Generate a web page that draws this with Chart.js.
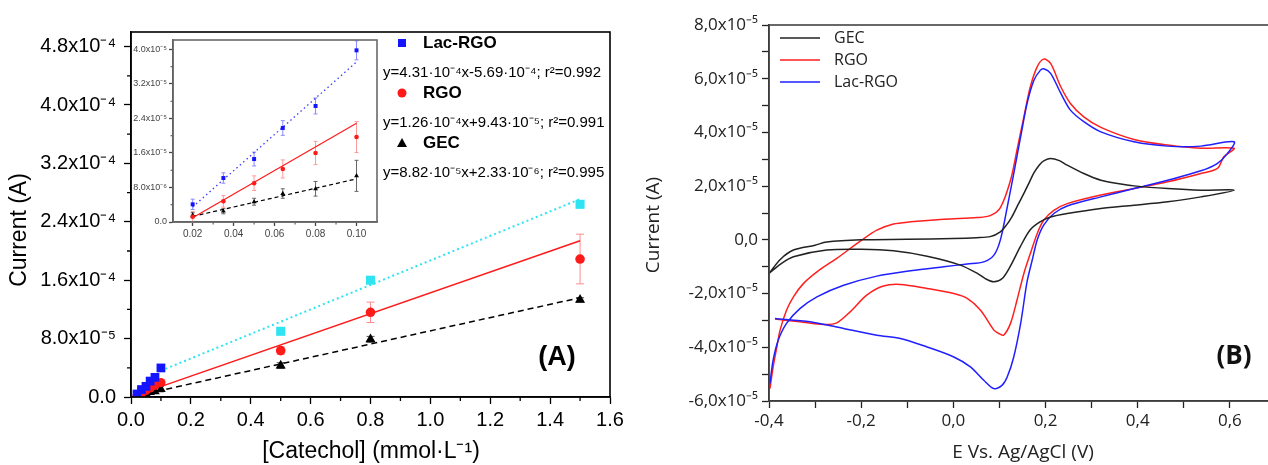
<!DOCTYPE html>
<html>
<head>
<meta charset="utf-8">
<script src="https://cdn.jsdelivr.net/npm/chart.js@4.4.1/dist/chart.umd.min.js"></script>
<style>
  html, body { margin: 0; padding: 0; background: #fff; overflow: hidden; width: 1268px; height: 465px; }
  canvas { position: absolute; }
  #panelA { left: 0; top: 0; }
  #inset { left: 130px; top: 30px; }
  #panelB { left: 640px; top: 0; }
</style>
</head>
<body>
<canvas id="panelA" width="640" height="465"></canvas>
<canvas id="inset" width="255" height="215"></canvas>
<canvas id="panelB" width="640" height="465"></canvas>
<script>
// ---------- panel (A): calibration data ----------
var concLow = [0.02, 0.035, 0.05, 0.064, 0.08, 0.10];
var concHigh = [0.5, 0.8, 1.5];

var lacLow = [4.1e-6, 1.02e-5, 1.46e-5, 2.18e-5, 2.69e-5, 3.98e-5];
var lacLowErr = [1.2e-6, 1.2e-6, 1.6e-6, 1.7e-6, 1.85e-6, 2.2e-6];
var lacHigh = [9.0e-5, 1.6e-4, 2.64e-4];
var lacHighErr = [1e-6, 2e-6, 5e-6];

var rgoLow = [1.2e-6, 4.8e-6, 9.0e-6, 1.23e-5, 1.6e-5, 1.97e-5];
var rgoLowErr = [1.2e-6, 1.35e-6, 1.7e-6, 2.1e-6, 2.7e-6, 3.6e-6];
var rgoHigh = [6.35e-5, 1.16e-4, 1.89e-4];
var rgoHighErr = [5e-6, 1.4e-5, 3.4e-5];

var gecLow = [1.6e-6, 2.5e-6, 4.7e-6, 6.6e-6, 7.7e-6, 1.07e-5];
var gecLowErr = [0.55e-6, 0.6e-6, 0.8e-6, 1.1e-6, 1.7e-6, 3.6e-6];
var gecHigh = [4.3e-5, 7.9e-5, 1.33e-4];
var gecHighErr = [4e-6, 4e-6, 3e-6];

// fitted lines (end points)
var lacFitX = [0.1, 1.5], lacFitY = [3.6e-5, 2.71e-4];
var rgoFitX = [0.02, 1.5], rgoFitY = [2.9e-6, 2.14e-4];
var gecFitX = [0.02, 1.5], gecFitY = [1.8e-6, 1.36e-4];
var insetFitX = [0.02, 0.10];
var lacInsetFitY = [3.5e-6, 3.71e-5];
var rgoInsetFitY = [1.0e-6, 2.29e-5];
var gecInsetFitY = [1.3e-6, 1.0e-5];

var seriesNames = ['Lac-RGO', 'RGO', 'GEC'];
var fitEquations = [
  'y=4.31·10⁻⁴x-5.69·10⁻⁴; r²=0.992',
  'y=1.26·10⁻⁴x+9.43·10⁻⁵; r²=0.991',
  'y=8.82·10⁻⁵x+2.33·10⁻⁶; r²=0.995'
];

var mainXTicks = [0, 0.2, 0.4, 0.6, 0.8, 1.0, 1.2, 1.4, 1.6];
var mainXLabels = ['0.0', '0.2', '0.4', '0.6', '0.8', '1.0', '1.2', '1.4', '1.6'];
var mainXMinor = [0.1, 0.3, 0.5, 0.7, 0.9, 1.1, 1.3, 1.5];
var mainYTicks = [0, 8e-5, 1.6e-4, 2.4e-4, 3.2e-4, 4.0e-4, 4.8e-4];
var mainYLabels = ['0.0', '8.0x10⁻⁵', '1.6x10⁻⁴', '2.4x10⁻⁴', '3.2x10⁻⁴', '4.0x10⁻⁴', '4.8x10⁻⁴'];
var mainYMinor = [4e-5, 1.2e-4, 2.0e-4, 2.8e-4, 3.6e-4, 4.4e-4];

var insetXTicks = [0.02, 0.04, 0.06, 0.08, 0.10];
var insetXLabels = ['0.02', '0.04', '0.06', '0.08', '0.10'];
var insetXMinor = [0.03, 0.05, 0.07, 0.09];
var insetYTicks = [0, 8e-6, 1.6e-5, 2.4e-5, 3.2e-5, 4.0e-5];
var insetYLabels = ['0.0', '8.0x10⁻⁶', '1.6x10⁻⁵', '2.4x10⁻⁵', '3.2x10⁻⁵', '4.0x10⁻⁵'];
var insetYMinor = [4e-6, 1.2e-5, 2.0e-5, 2.8e-5, 3.6e-5];

// ---------- panel (B): cyclic voltammograms ----------
var gecE = [-0.4, -0.375, -0.347, -0.3, -0.275, -0.2, -0.1, 0.0, 0.05, 0.08, 0.102, 0.115, 0.127, 0.14, 0.153, 0.165, 0.175, 0.187, 0.197, 0.211, 0.23, 0.247, 0.283, 0.32, 0.356, 0.392, 0.465, 0.537, 0.609,
            0.537, 0.465, 0.392, 0.32, 0.247, 0.211, 0.188, 0.166, 0.145, 0.123, 0.106, 0.088, 0.07, 0.052, 0.015, -0.057, -0.13, -0.2, -0.275, -0.347, -0.375, -0.4];
var gecI = [-1.25e-5, -0.72e-5, -0.38e-5, -0.2e-5, -0.08e-5, 0.0, 0.02e-5, 0.05e-5, 0.08e-5, 0.12e-5, 0.3e-5, 0.55e-5, 0.86e-5, 1.3e-5, 1.73e-5, 2.15e-5, 2.5e-5, 2.8e-5, 2.95e-5, 3.03e-5, 2.95e-5, 2.78e-5, 2.47e-5, 2.22e-5, 2.10e-5, 2.01e-5, 1.91e-5, 1.85e-5, 1.85e-5,
            1.60e-5, 1.42e-5, 1.29e-5, 1.17e-5, 0.98e-5, 0.85e-5, 0.67e-5, 0.36e-5, -0.26e-5, -1.0e-5, -1.44e-5, -1.56e-5, -1.45e-5, -1.25e-5, -0.94e-5, -0.61e-5, -0.41e-5, -0.35e-5, -0.38e-5, -0.63e-5, -0.9e-5, -1.25e-5];

var rgoE = [-0.398, -0.391, -0.383, -0.376, -0.362, -0.347, -0.325, -0.296, -0.253, -0.202, -0.166, -0.13, -0.093, -0.021, 0.052, 0.08, 0.102, 0.124, 0.138, 0.153, 0.167, 0.182, 0.196, 0.211, 0.233, 0.254, 0.283, 0.32, 0.392, 0.465, 0.537, 0.609,
            0.587, 0.573, 0.537, 0.465, 0.392, 0.32, 0.247, 0.218, 0.196, 0.182, 0.167, 0.153, 0.138, 0.124, 0.109, 0.1, 0.088, 0.059, 0.03, 0.001, -0.057, -0.115, -0.152, -0.188, -0.224, -0.253, -0.282, -0.333, -0.387];
var rgoI = [-5.54e-5, -4.73e-5, -3.99e-5, -3.36e-5, -2.62e-5, -2.12e-5, -1.62e-5, -1.19e-5, -0.69e-5, -0.05e-5, 0.36e-5, 0.59e-5, 0.67e-5, 0.77e-5, 0.83e-5, 0.9e-5, 1.2e-5, 2.22e-5, 3.34e-5, 4.58e-5, 5.7e-5, 6.45e-5, 6.73e-5, 6.57e-5, 5.70e-5, 5.08e-5, 4.58e-5, 4.19e-5, 3.74e-5, 3.53e-5, 3.41e-5, 3.41e-5,
            3.10e-5, 2.66e-5, 2.47e-5, 2.16e-5, 1.91e-5, 1.67e-5, 1.35e-5, 1.1e-5, 0.73e-5, 0.24e-5, -0.51e-5, -1.25e-5, -2.25e-5, -3.11e-5, -3.55e-5, -3.5e-5, -3.36e-5, -2.62e-5, -2.18e-5, -2.0e-5, -1.81e-5, -1.66e-5, -1.72e-5, -2.06e-5, -2.68e-5, -3.09e-5, -3.15e-5, -3.05e-5, -2.95e-5];

var lacE = [-0.398, -0.391, -0.38, -0.362, -0.333, -0.296, -0.238, -0.166, -0.093, -0.021, 0.03, 0.066, 0.088, 0.102, 0.117, 0.131, 0.146, 0.16, 0.175, 0.189, 0.196, 0.211, 0.233, 0.254, 0.283, 0.32, 0.392, 0.465, 0.537, 0.609,
            0.595, 0.573, 0.537, 0.465, 0.392, 0.32, 0.247, 0.218, 0.196, 0.182, 0.171, 0.16, 0.146, 0.131, 0.117, 0.106, 0.088, 0.066, 0.037, 0.001, -0.057, -0.115, -0.166, -0.238, -0.311, -0.387];
var lacI = [-5.35e-5, -4.48e-5, -3.74e-5, -3.11e-5, -2.56e-5, -2.12e-5, -1.69e-5, -1.35e-5, -1.15e-5, -1.0e-5, -0.9e-5, -0.82e-5, -0.57e-5, 0.0, 1.23e-5, 2.47e-5, 3.84e-5, 5.08e-5, 5.95e-5, 6.32e-5, 6.37e-5, 6.2e-5, 5.46e-5, 4.83e-5, 4.40e-5, 4.02e-5, 3.65e-5, 3.49e-5, 3.49e-5, 3.65e-5,
            3.22e-5, 2.85e-5, 2.57e-5, 2.22e-5, 1.91e-5, 1.6e-5, 1.26e-5, 0.98e-5, 0.55e-5, 0.0, -0.76e-5, -1.55e-5, -3.11e-5, -4.36e-5, -5.1e-5, -5.41e-5, -5.54e-5, -5.23e-5, -4.73e-5, -4.36e-5, -3.99e-5, -3.67e-5, -3.55e-5, -3.30e-5, -3.05e-5, -2.93e-5];

var cvNames = ['GEC', 'RGO', 'Lac-RGO'];
var cvColors = ['#222222', '#ff1f1f', '#1f1fff'];

var cvXTicks = [-0.4, -0.3, -0.2, -0.1, 0.0, 0.1, 0.2, 0.3, 0.4, 0.5, 0.6, 0.7];
var cvXLabels = ['-0,4', '', '-0,2', '', '0,0', '', '0,2', '', '0,4', '', '0,6', ''];
var cvYTicks = [-6e-5, -5e-5, -4e-5, -3e-5, -2e-5, -1e-5, 0, 1e-5, 2e-5, 3e-5, 4e-5, 5e-5, 6e-5, 7e-5, 8e-5];
var cvYLabels = ['-6,0x10⁻⁵', '', '-4,0x10⁻⁵', '', '-2,0x10⁻⁵', '', '0,0', '', '2,0x10⁻⁵', '', '4,0x10⁻⁵', '', '6,0x10⁻⁵', '', '8,0x10⁻⁵'];

// ---------- helpers ----------
function pts(xs, ys) {
  return xs.map(function(x, i) { return { x: x, y: ys[i] }; });
}

function text(ctx, s, x, y, font, opt) {
  opt = opt || {};
  ctx.save();
  ctx.font = font;
  ctx.fillStyle = opt.color || '#000';
  ctx.textAlign = opt.align || 'left';
  ctx.textBaseline = 'middle';
  ctx.translate(x, y);
  if (opt.rotate) ctx.rotate(opt.rotate);
  ctx.fillText(s, 0, 0);
  ctx.restore();
}

var errorBars = {
  id: 'errorBars',
  beforeDatasetsDraw: function(chart) {
    var ctx = chart.ctx, ys = chart.scales.y;
    chart.data.datasets.forEach(function(ds, di) {
      if (!ds.errors) return;
      var meta = chart.getDatasetMeta(di);
      ctx.save();
      ctx.strokeStyle = ds.errorColor;
      ctx.lineWidth = ds.errorWidth || 1;
      meta.data.forEach(function(p, i) {
        var v = ds.data[i].y, e = ds.errors[i], c = ds.capSize || 3;
        var t = ys.getPixelForValue(v + e), b = ys.getPixelForValue(v - e);
        ctx.beginPath();
        ctx.moveTo(p.x, t); ctx.lineTo(p.x, b);
        ctx.moveTo(p.x - c, t); ctx.lineTo(p.x + c, t);
        ctx.moveTo(p.x - c, b); ctx.lineTo(p.x + c, b);
        ctx.stroke();
      });
      ctx.restore();
    });
  }
};

var minorTicks = {
  id: 'minorTicks',
  afterDraw: function(chart, args, o) {
    var ctx = chart.ctx, a = chart.chartArea;
    ctx.save();
    ctx.strokeStyle = o.color || '#000';
    ctx.lineWidth = o.width || 1;
    ctx.beginPath();
    (o.x || []).forEach(function(v) {
      var p = chart.scales.x.getPixelForValue(v);
      ctx.moveTo(p, a.bottom); ctx.lineTo(p, a.bottom + o.length);
    });
    (o.y || []).forEach(function(v) {
      var p = chart.scales.y.getPixelForValue(v);
      ctx.moveTo(a.left, p); ctx.lineTo(a.left - o.length, p);
    });
    ctx.stroke();
    ctx.restore();
  }
};

var frame = {
  id: 'frame',
  afterDraw: function(chart, args, o) {
    var ctx = chart.ctx, a = chart.chartArea;
    ctx.save();
    ctx.strokeStyle = o.color;
    ctx.lineWidth = o.width;
    ctx.strokeRect(a.left, a.top, a.right - a.left, a.bottom - a.top);
    ctx.restore();
  }
};

function setTicks(list) {
  return function(s) { s.ticks = list.map(function(v) { return { value: v }; }); };
}

function axis(min, max, ticks, labels, font, color, tickLen, fit) {
  return {
    type: 'linear', min: min, max: max,
    afterBuildTicks: setTicks(ticks),
    afterFit: fit,
    ticks: {
      autoSkip: false, maxRotation: 0, color: color, font: font, padding: 5,
      callback: function(v, i) { return labels[i]; }
    },
    grid: { drawOnChartArea: false, tickLength: tickLen, tickWidth: 1.3, tickColor: color },
    border: { color: color, width: 1.5 }
  };
}

// ---------- panel (A) ----------
var colLac = '#1414ff', colLacHi = '#2fe4f2', colRgo = '#ff1a1a', colGec = '#000000';
var fontA = 'Liberation Sans';

var mainX = axis(0, 1.6, mainXTicks, mainXLabels, { family: fontA, size: 20 }, '#000', 7, function(s) { s.height = 68; });
var mainY = axis(0, 5.0e-4, mainYTicks, mainYLabels, { family: fontA, size: 20 }, '#000', 7, function(s) { s.width = 131; });
mainX.ticks.padding = 4;
mainY.ticks.padding = 8;

var textA = {
  id: 'textA',
  afterDraw: function(chart) {
    var ctx = chart.ctx;
    text(ctx, 'Current (A)', 20, 230, '23px ' + fontA, { align: 'center', rotate: -Math.PI / 2 });
    text(ctx, '[Catechol] (mmol·L⁻¹)', 371, 452, '23px ' + fontA, { align: 'center' });
    text(ctx, '(A)', 557, 358, 'bold 27px ' + fontA, { align: 'center' });

    // legend
    var rows = [43, 93, 143];
    ctx.save();
    ctx.fillStyle = colLac;
    ctx.fillRect(398, rows[0] - 4, 8, 8);
    ctx.fillStyle = colRgo;
    ctx.beginPath(); ctx.arc(402, rows[1], 4.5, 0, Math.PI * 2); ctx.fill();
    ctx.fillStyle = colGec;
    ctx.beginPath(); ctx.moveTo(402, rows[2] - 5); ctx.lineTo(407, rows[2] + 4); ctx.lineTo(397, rows[2] + 4); ctx.closePath(); ctx.fill();
    ctx.restore();
    for (var i = 0; i < 3; i++) {
      text(ctx, seriesNames[i], 423, rows[i], 'bold 17px ' + fontA);
      text(ctx, fitEquations[i], 383, rows[i] + 30, '15px ' + fontA);
    }
  }
};

new Chart(document.getElementById('panelA'), {
  type: 'scatter',
  data: {
    datasets: [
      { data: pts(concLow, lacLow), errors: lacLowErr, errorColor: '#6a6aff', pointStyle: 'rect', pointRadius: 6.2, backgroundColor: colLac, borderColor: colLac, borderWidth: 0 },
      { data: pts(concHigh, lacHigh), errors: lacHighErr, errorColor: '#6ee', pointStyle: 'rect', pointRadius: 6.4, backgroundColor: colLacHi, borderColor: colLacHi, borderWidth: 0 },
      { data: pts(concLow, rgoLow), errors: rgoLowErr, errorColor: '#ff8c8c', pointStyle: 'circle', pointRadius: 4.6, backgroundColor: colRgo, borderColor: colRgo, borderWidth: 0 },
      { data: pts(concHigh, rgoHigh), errors: rgoHighErr, errorColor: '#ff8c8c', capSize: 4, pointStyle: 'circle', pointRadius: 4.8, backgroundColor: colRgo, borderColor: colRgo, borderWidth: 0 },
      { data: pts(concLow, gecLow), errors: gecLowErr, errorColor: '#555', pointStyle: 'triangle', pointRadius: 5.5, backgroundColor: colGec, borderColor: colGec, borderWidth: 0 },
      { data: pts(concHigh, gecHigh), errors: gecHighErr, errorColor: '#555', capSize: 4, pointStyle: 'triangle', pointRadius: 5.8, backgroundColor: colGec, borderColor: colGec, borderWidth: 0 },
      { data: pts(lacFitX, lacFitY), showLine: true, pointRadius: 0, borderColor: colLacHi, borderWidth: 2, borderDash: [2, 3] },
      { data: pts(rgoFitX, rgoFitY), showLine: true, pointRadius: 0, borderColor: colRgo, borderWidth: 1.5 },
      { data: pts(gecFitX, gecFitY), showLine: true, pointRadius: 0, borderColor: colGec, borderWidth: 1.5, borderDash: [6, 4] }
    ]
  },
  options: {
    responsive: false,
    animation: false,
    events: [],
    layout: { padding: { top: 32, right: 30, left: 0, bottom: 0 } },
    scales: { x: mainX, y: mainY },
    plugins: {
      legend: { display: false },
      tooltip: { enabled: false },
      minorTicks: { x: mainXMinor, y: mainYMinor, length: 4, color: '#000', width: 1.3 },
      frame: { color: '#000', width: 1.6 }
    }
  },
  plugins: [errorBars, minorTicks, frame, textA]
});

// ---------- inset ----------
var insX = axis(0.0104, 0.11, insetXTicks, insetXLabels, { family: fontA, size: 10 }, '#444', 4, function(s) { s.height = 23; });
var insY = axis(0, 4.22e-5, insetYTicks, insetYLabels, { family: fontA, size: 9 }, '#444', 4, function(s) { s.width = 43; });
insX.ticks.padding = 2;
insY.ticks.padding = 2;

new Chart(document.getElementById('inset'), {
  type: 'scatter',
  data: {
    datasets: [
      { data: pts(concLow, lacLow), errors: lacLowErr, errorColor: '#8a8aff', capSize: 2, pointStyle: 'rect', pointRadius: 2.8, backgroundColor: colLac, borderWidth: 0 },
      { data: pts(concLow, rgoLow), errors: rgoLowErr, errorColor: '#ff9a9a', capSize: 2, pointStyle: 'circle', pointRadius: 2.3, backgroundColor: colRgo, borderWidth: 0 },
      { data: pts(concLow, gecLow), errors: gecLowErr, errorColor: '#666', capSize: 2, pointStyle: 'triangle', pointRadius: 2.8, backgroundColor: colGec, borderWidth: 0 },
      { data: pts(insetFitX, lacInsetFitY), showLine: true, pointRadius: 0, borderColor: '#3c3cff', borderWidth: 1.3, borderDash: [1.5, 3] },
      { data: pts(insetFitX, rgoInsetFitY), showLine: true, pointRadius: 0, borderColor: colRgo, borderWidth: 1.2 },
      { data: pts(insetFitX, gecInsetFitY), showLine: true, pointRadius: 0, borderColor: colGec, borderWidth: 1.2, borderDash: [4, 3] }
    ]
  },
  options: {
    responsive: false,
    animation: false,
    events: [],
    layout: { padding: { top: 10, right: 8, left: 0, bottom: 0 } },
    scales: { x: insX, y: insY },
    plugins: {
      legend: { display: false },
      tooltip: { enabled: false },
      minorTicks: { x: insetXMinor, y: insetYMinor, length: 2.5, color: '#444', width: 1 },
      frame: { color: '#6a6a6a', width: 1.6 }
    }
  },
  plugins: [errorBars, minorTicks, frame]
});

// ---------- panel (B) ----------
var fontB = 'Open Sans';
var cvX = axis(-0.4, 0.7, cvXTicks, cvXLabels, { family: fontB, size: 17 }, '#222', 7, function(s) { s.height = 64; });
var cvY = axis(-6e-5, 8e-5, cvYTicks, cvYLabels, { family: fontB, size: 17 }, '#222', 7, function(s) { s.width = 129; });
cvX.ticks.padding = 3;
cvY.ticks.padding = 4;

var textB = {
  id: 'textB',
  afterDraw: function(chart) {
    var ctx = chart.ctx;
    text(ctx, 'Current (A)', 14, 225, '19px ' + fontB, { align: 'center', rotate: -Math.PI / 2, color: '#222' });
    text(ctx, 'E Vs. Ag/AgCl (V)', 383, 453, '19px ' + fontB, { align: 'center', color: '#222' });
    text(ctx, '(B)', 594, 357, 'bold 26px ' + fontB, { align: 'center', color: '#111' });
    var rows = [38, 60, 82];
    for (var i = 0; i < 3; i++) {
      ctx.save();
      ctx.strokeStyle = cvColors[i];
      ctx.lineWidth = 1.5;
      ctx.beginPath(); ctx.moveTo(140, rows[i]); ctx.lineTo(180, rows[i]); ctx.stroke();
      ctx.restore();
      text(ctx, cvNames[i], 194, rows[i], '16px ' + fontB, { color: '#222' });
    }
  }
};

function cvSet(xs, ys, color) {
  return { data: pts(xs, ys), showLine: true, pointRadius: 0, borderColor: color, borderWidth: 1.5, tension: 0.3 };
}

new Chart(document.getElementById('panelB'), {
  type: 'scatter',
  data: {
    datasets: [
      cvSet(gecE, gecI, cvColors[0]),
      cvSet(lacE, lacI, cvColors[2]),
      cvSet(rgoE, rgoI, cvColors[1])
    ]
  },
  options: {
    responsive: false,
    animation: false,
    events: [],
    layout: { padding: { top: 25, right: 4, left: 0, bottom: 0 } },
    scales: { x: cvX, y: cvY },
    plugins: {
      legend: { display: false },
      tooltip: { enabled: false },
      frame: { color: '#444', width: 1.6 }
    }
  },
  plugins: [frame, textB]
});
</script>
</body>
</html>
